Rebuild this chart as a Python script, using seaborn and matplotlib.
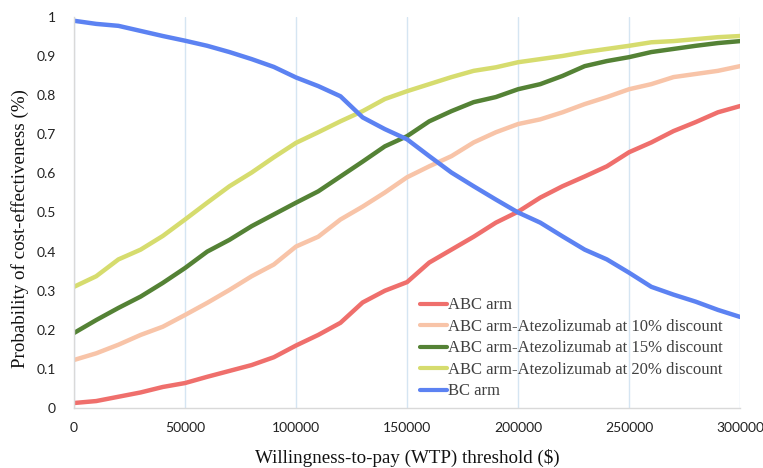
import matplotlib

matplotlib.use('Agg')
import matplotlib.pyplot as plt
import pandas as pd
import seaborn as sns

# WTP thresholds and the acceptability curves
WTP = list(range(0, 300001, 10000))
ABC = [0.013, 0.018, 0.029, 0.040, 0.054, 0.064, 0.080, 0.095, 0.110, 0.130,
       0.160, 0.187, 0.218, 0.270, 0.300, 0.322, 0.372, 0.405, 0.438, 0.474,
       0.502, 0.538, 0.567, 0.592, 0.618, 0.654, 0.679, 0.708, 0.731, 0.756,
       0.772]
ABC_10 = [0.123, 0.140, 0.162, 0.187, 0.208, 0.238, 0.269, 0.302, 0.337, 0.367,
          0.413, 0.438, 0.482, 0.515, 0.551, 0.590, 0.618, 0.644, 0.679, 0.705,
          0.726, 0.738, 0.756, 0.777, 0.795, 0.815, 0.828, 0.846, 0.854, 0.862,
          0.874]
ABC_15 = [0.192, 0.225, 0.256, 0.285, 0.320, 0.358, 0.400, 0.430, 0.465, 0.495,
          0.525, 0.554, 0.592, 0.630, 0.669, 0.695, 0.733, 0.759, 0.782, 0.795,
          0.815, 0.828, 0.849, 0.874, 0.887, 0.897, 0.910, 0.918, 0.926, 0.933,
          0.938]
ABC_20 = [0.310, 0.337, 0.380, 0.405, 0.440, 0.482, 0.525, 0.567, 0.602, 0.641,
          0.678, 0.705, 0.733, 0.759, 0.790, 0.810, 0.828, 0.846, 0.862, 0.871,
          0.884, 0.892, 0.900, 0.910, 0.918, 0.926, 0.935, 0.938, 0.943, 0.948,
          0.951]
BC = [0.990, 0.982, 0.977, 0.964, 0.951, 0.939, 0.926, 0.910, 0.892, 0.872,
      0.845, 0.823, 0.797, 0.743, 0.713, 0.687, 0.644, 0.602, 0.567, 0.533,
      0.500, 0.474, 0.439, 0.405, 0.380, 0.346, 0.310, 0.290, 0.272, 0.251,
      0.233]

SERIES = {
    'ABC arm': (ABC, '#EF6F6C'),
    'ABC arm-Atezolizumab at 10% discount': (ABC_10, '#F8C4A8'),
    'ABC arm-Atezolizumab at 15% discount': (ABC_15, '#548235'),
    'ABC arm-Atezolizumab at 20% discount': (ABC_20, '#D6DC6E'),
    'BC arm': (BC, '#5C82F2'),
}

sns.set_theme(style='white')
plt.rcParams['font.family'] = ['Lato', 'DejaVu Sans']

df = pd.concat(
    [pd.DataFrame({'wtp': WTP, 'prob': vals, 'arm': name})
     for name, (vals, _) in SERIES.items()],
    ignore_index=True,
)
palette = {name: c for name, (_, c) in SERIES.items()}

fig = plt.figure(figsize=(7.63, 4.68), dpi=100)
ax = fig.add_axes([0.097, 0.128, 0.873, 0.836])
sns.lineplot(data=df, x='wtp', y='prob', hue='arm', palette=palette,
             linewidth=3.2, ax=ax, legend=True)

ax.set_xlim(0, 300000)
ax.set_ylim(0, 1)
ax.set_xticks(range(0, 300001, 50000))
ax.set_yticks([i / 10 for i in range(11)])
ax.set_yticklabels(['0'] + [f'{i / 10:.1f}' for i in range(1, 10)] + ['1'])
ax.tick_params(axis='both', length=0, labelsize=10, colors='#222222')
ax.tick_params(axis='x', pad=10)
ax.tick_params(axis='y', pad=13)
ax.grid(axis='x', color='#D5E5F2', linewidth=1)
ax.grid(axis='y', visible=False)
for side in ('top', 'right'):
    ax.spines[side].set_visible(False)
for side in ('left', 'bottom'):
    ax.spines[side].set_color('#D9D9D9')
    ax.spines[side].set_linewidth(1)

serif = ['Liberation Serif', 'DejaVu Serif']
ax.set_xlabel('Willingness-to-pay (WTP) threshold ($)', family=serif,
              fontsize=13.7, color='#111111')
ax.xaxis.label.set_va('center')
ax.xaxis.set_label_coords(0.5, -0.128)
ax.set_ylabel('Probability of cost-effectiveness (%)', family=serif,
              fontsize=13.7, color='#111111')
ax.yaxis.label.set_va('center')
ax.yaxis.set_label_coords(-0.081, 0.46)

leg = ax.legend(loc='lower left', bbox_to_anchor=(0.51, 0.005),
                frameon=False, handlelength=1.6, handletextpad=0.05,
                labelspacing=0.33, borderaxespad=0,
                prop={'family': serif, 'size': 12})
for line in leg.get_lines():
    line.set_linewidth(3)
for t in leg.get_texts():
    t.set_color('#404040')

fig.savefig('out.png', dpi=100)
